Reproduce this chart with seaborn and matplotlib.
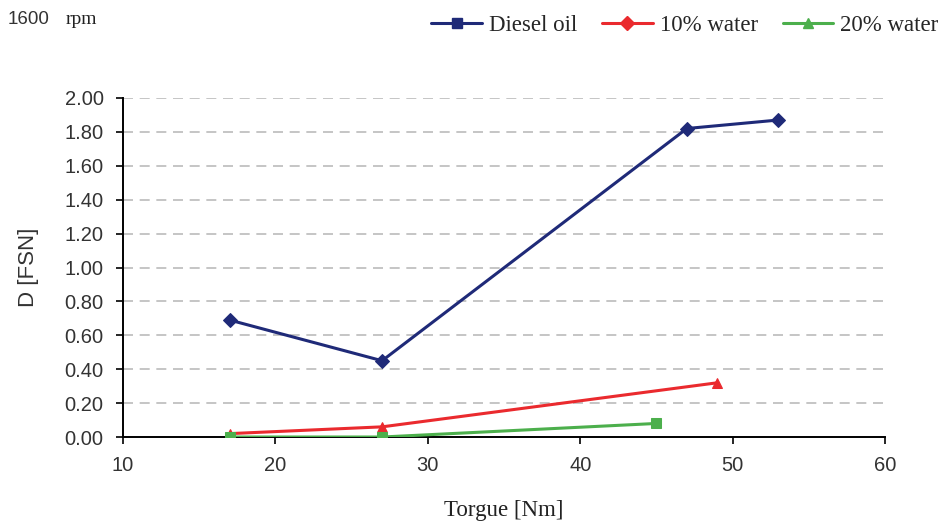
import matplotlib
matplotlib.use("Agg")
import matplotlib.pyplot as plt
import seaborn as sns
import pandas as pd
from matplotlib.lines import Line2D

# Data
diesel_x = [17, 27, 47, 53]
diesel_y = [0.69, 0.45, 1.82, 1.87]
w10_x = [17, 27, 49]
w10_y = [0.02, 0.06, 0.32]
w20_x = [17, 27, 45]
w20_y = [0.00, 0.00, 0.08]
series_names = ["Diesel oil", "10% water", "20% water"]
x_ticks = [10, 20, 30, 40, 50, 60]
y_ticks = [0.0, 0.2, 0.4, 0.6, 0.8, 1.0, 1.2, 1.4, 1.6, 1.8, 2.0]

colors = {"Diesel oil": "#1f2a78", "10% water": "#ea2a2e", "20% water": "#4caf4c"}
plot_markers = {"Diesel oil": "D", "10% water": "^", "20% water": "s"}
legend_markers = {"Diesel oil": "s", "10% water": "D", "20% water": "^"}

df = pd.concat([
    pd.DataFrame({"x": diesel_x, "y": diesel_y, "series": series_names[0]}),
    pd.DataFrame({"x": w10_x, "y": w10_y, "series": series_names[1]}),
    pd.DataFrame({"x": w20_x, "y": w20_y, "series": series_names[2]}),
], ignore_index=True)

sns.set_style("white")
sans = ["Liberation Sans", "DejaVu Sans"]
serif = ["Liberation Serif", "DejaVu Serif"]
plt.rcParams["font.family"] = sans

fig = plt.figure(figsize=(9.43, 5.24), dpi=100)
ax = fig.add_axes([0.1304, 0.166, 0.8081, 0.647])

for name in series_names:
    sub = df[df["series"] == name]
    sns.lineplot(data=sub, x="x", y="y", ax=ax, color=colors[name],
                 marker=plot_markers[name], markersize=7, linewidth=2.2,
                 markeredgecolor=colors[name], legend=False, zorder=3)

ax.set_xlim(10, 60)
ax.set_ylim(0, 2.0)
ax.set_xticks(x_ticks)
ax.set_yticks(y_ticks)
ax.set_yticklabels([f"{v:.2f}" for v in y_ticks])
ax.set_xticklabels([str(v) for v in x_ticks])
ax.tick_params(axis="both", labelsize=14.5, direction="out", length=5, width=1.2,
               colors="black", labelcolor="#333333", left=True, bottom=True)
ax.tick_params(axis="x", pad=9)
ax.tick_params(axis="y", pad=9)
ax.yaxis.grid(True, linestyle=(0, (6, 4)), color="#bbbbbb", linewidth=1.2)
ax.xaxis.grid(False)
for s in ["top", "right"]:
    ax.spines[s].set_visible(False)
for s in ["left", "bottom"]:
    ax.spines[s].set_color("black")
    ax.spines[s].set_linewidth(1.4)

ax.set_xlabel("Torgue [Nm]", fontsize=16.5, family=serif, color="#222222", labelpad=18)
ax.set_ylabel("D [FSN]", fontsize=16, family=sans, color="#333333", labelpad=18)

handles = [Line2D([0], [0], color=colors[n], marker=legend_markers[n], markersize=7,
                  linewidth=2.2) for n in series_names]
leg = fig.legend(handles, series_names, loc="upper right", bbox_to_anchor=(1.017, 1.01),
                 ncol=3, frameon=False, prop={"family": serif, "size": 16.5},
                 handlelength=2.2, handletextpad=0.3, columnspacing=1.1)

fig.text(0.008, 0.962, "1600", fontsize=13.5, family=sans, color="#333333", va="center")
fig.text(0.07, 0.962, "rpm", fontsize=14, family=serif, color="#222222", va="center")

fig.savefig("out.png", dpi=100)
